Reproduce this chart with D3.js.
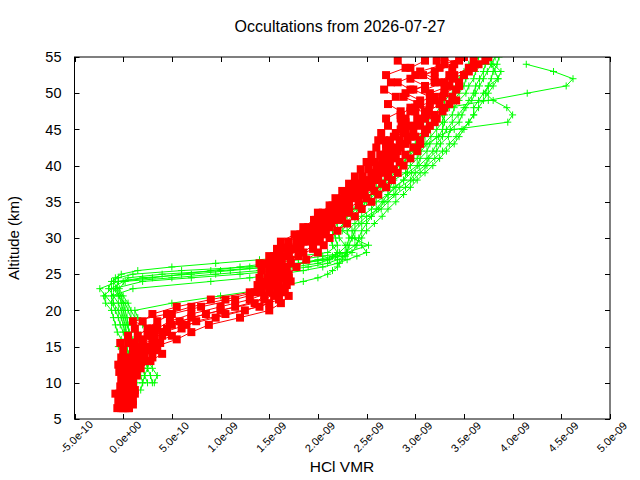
<!DOCTYPE html>
<html>
<head>
<meta charset="utf-8">
<script src="https://cdn.jsdelivr.net/npm/d3@7"></script>
<style>
  html, body { margin: 0; padding: 0; background: #fff; }
  svg { display: block; font-family: "Liberation Sans", Arial, sans-serif; }
</style>
</head>
<body>
<svg id="chart" width="640" height="480"></svg>
<script>
// ---- data (VMR in units of 1e-9, altitude in km) ----
const titleText = "Occultations from 2026-07-27";
const xLabel = "HCl VMR";
const yLabel = "Altitude (km)";
const vmrUnit = 1e-9;
const xTicks = [-5e-10, 0, 5e-10, 1e-9, 1.5e-9, 2e-9, 2.5e-9, 3e-9, 3.5e-9, 4e-9, 4.5e-9, 5e-9];
const yTicks = [5, 10, 15, 20, 25, 30, 35, 40, 45, 50, 55];

const greenAlt = [9,10,11,12,13,14,15,16,17,18,19,20,21,22,23,24,24.5,25,25.5,26,26.5,27,27.5,28,29,30,31,32,33,34,35,36,37,38,39,40,41,42,43,44,45,46,47,48,49,50,51,52,53,54,55];
const green1 = [null,0.14,0.12,0.10,0.08,0.06,0.03,0.02,0.00,-0.03,-0.05,-0.08,-0.12,-0.18,-0.24,-0.05,0.30,0.60,0.90,1.20,1.50,1.80,2.05,2.30,2.52,2.35,2.25,2.30,2.38,2.45,2.55,2.62,2.74,2.78,2.90,2.95,3.02,3.06,3.12,3.24,3.28,3.30,3.38,3.40,3.45,3.52,3.55,3.60,3.62,3.68,3.75];
const green2 = [null,0.20,0.18,0.15,0.12,0.10,0.08,0.05,0.03,0.02,0.00,-0.02,-0.05,-0.10,-0.15,-0.12,-0.05,0.10,0.60,1.30,1.80,2.10,2.25,2.30,2.28,2.22,2.20,2.28,2.35,2.42,2.50,2.58,2.66,2.74,2.82,2.88,2.96,3.02,3.10,3.16,3.22,3.28,3.30,3.33,3.75,4.15,4.55,4.62,4.42,4.14,null];
const green3 = [null,0.25,0.22,0.20,0.18,0.15,0.12,0.10,0.06,0.04,0.02,0.00,-0.02,-0.04,-0.08,-0.05,0.20,0.70,1.10,1.50,1.80,2.00,2.15,2.22,2.30,2.32,2.30,2.38,2.45,2.55,2.60,2.72,2.78,2.88,2.92,3.02,3.05,3.12,3.15,3.22,3.40,3.95,4.00,3.94,3.80,3.72,3.75,3.85,3.88,3.80,3.72];
const green4 = [null,0.10,0.08,0.06,0.05,0.05,0.04,0.03,0.02,0.00,-0.02,-0.05,-0.10,-0.12,0.10,0.90,1.30,1.60,1.85,2.05,2.20,2.30,2.40,2.50,2.45,2.38,2.35,2.42,2.50,2.62,2.68,2.78,2.84,2.95,3.00,3.10,3.14,3.22,3.26,3.34,3.36,3.45,3.48,3.52,3.58,3.62,3.66,3.70,3.74,3.78,3.82];
const green5 = [0.18,0.20,0.22,0.25,0.28,0.30,0.32,0.30,0.25,0.20,0.15,0.12,0.50,1.00,1.50,1.85,2.00,2.10,2.15,2.20,2.22,2.25,2.28,2.30,2.32,2.35,2.38,2.45,2.55,2.65,2.72,2.80,2.90,2.98,3.05,3.12,3.20,3.28,3.35,3.42,3.48,3.55,3.60,3.65,3.70,3.75,3.80,3.85,3.82,3.78,null];
const green6 = [null,0.05,0.06,0.08,0.10,0.12,0.10,0.08,0.06,0.05,0.04,0.02,0.00,-0.02,-0.06,-0.10,-0.08,-0.02,0.15,0.50,0.95,1.40,1.80,2.10,2.20,2.18,2.15,2.20,2.28,2.36,2.42,2.50,2.60,2.68,2.76,2.84,2.92,2.98,3.05,3.10,3.15,3.20,3.28,3.35,3.40,3.45,3.50,3.52,3.55,3.60,3.65];
const green7 = [null,0.30,0.28,0.25,0.22,0.20,0.18,0.15,0.12,0.10,0.08,0.05,0.02,-0.05,-0.10,0.20,0.70,1.20,1.60,1.90,2.10,2.20,2.28,2.35,2.40,2.42,2.45,2.50,2.55,2.60,2.66,2.72,2.80,2.88,2.96,3.04,3.12,3.18,3.22,3.28,3.32,3.38,3.44,3.50,3.55,3.60,3.62,3.66,3.70,3.72,3.76];
const green8 = [null,0.32,0.35,0.30,0.26,0.22,0.28,0.20,0.15,0.10,0.12,0.08,0.05,0.00,-0.04,0.02,0.05,0.40,1.00,1.50,1.85,2.05,2.20,2.28,2.38,2.45,2.50,2.58,2.66,2.72,2.80,2.88,2.95,3.02,3.10,3.18,3.25,3.32,3.40,3.45,3.50,3.55,3.60,3.60,3.65,3.70,3.75,3.78,3.80,3.84,3.86];
const green9 = [0.05,0.08,0.00,0.02,-0.03,0.00,-0.05,-0.02,-0.06,-0.08,-0.10,-0.12,-0.18,-0.20,-0.12,0.00,0.50,0.95,1.40,1.75,2.00,2.12,2.18,2.20,2.15,2.12,2.20,2.26,2.30,2.40,2.48,2.55,2.64,2.70,2.80,2.86,2.90,2.95,3.00,3.05,3.10,3.12,3.20,3.25,3.30,3.38,3.42,3.45,3.50,3.55,3.60];

const redAlt = [6.5,7.5,8.5,9.5,10.5,11.5,12.5,13.5,14.5,15.5,16.5,17.5,18.5,19.5,20.5,21.5,22.5,23.5,24.5,25.5,26.5,27.5,28.5,29.5,30.5,31.5,32.5,33.5,34.5,35.5,36.5,37.5,38.5,39.5,40.5,41.5,42.5,43.5,44.5,45.5,46.5,47.5,48.5,49.5,50.5,51.5,52.5,53.5,54.5];
const red1 = [-0.02,-0.05,-0.08,-0.03,-0.02,-0.04,-0.05,-0.02,0.00,-0.03,0.05,0.12,0.20,0.30,0.55,0.90,1.30,1.38,1.40,1.42,1.45,1.50,1.58,1.70,1.82,1.90,1.98,2.05,2.12,2.18,2.25,2.32,2.38,2.44,2.50,2.55,2.60,2.62,2.65,2.72,2.70,2.85,2.72,2.80,2.68,2.75,2.70,2.90,2.82];
const red2 = [0.02,0.00,-0.04,0.01,0.02,0.00,0.02,0.05,0.10,0.05,0.15,0.25,0.35,0.50,0.80,1.15,1.42,1.45,1.48,1.50,1.52,1.58,1.66,1.78,1.88,1.96,2.05,2.12,2.20,2.25,2.32,2.40,2.46,2.52,2.58,2.64,2.70,2.74,2.80,2.86,2.90,2.95,3.05,2.88,2.95,2.82,3.00,2.95,3.10];
const red3 = [0.05,0.03,0.02,0.04,0.06,0.04,0.08,0.12,0.18,0.12,0.25,0.35,0.48,0.70,1.00,1.30,1.50,1.52,1.55,1.56,1.58,1.64,1.75,1.85,1.94,2.02,2.10,2.18,2.26,2.32,2.40,2.48,2.55,2.60,2.66,2.72,2.78,2.84,2.90,2.96,3.02,3.10,3.02,3.15,2.98,3.20,3.08,3.25,3.22];
const red4 = [0.00,0.06,0.08,0.02,0.04,0.08,0.10,0.20,0.25,0.20,0.32,0.45,0.58,0.85,1.15,1.45,1.58,1.60,1.62,1.60,1.63,1.70,1.82,1.92,2.00,2.06,2.15,2.24,2.32,2.40,2.48,2.55,2.62,2.68,2.74,2.80,2.85,2.92,2.98,3.04,3.10,3.14,3.25,3.20,3.30,3.25,3.35,3.38,3.45];
const red5 = [0.06,0.10,0.12,0.08,0.10,0.12,0.15,0.30,0.35,0.32,0.50,0.60,0.75,1.05,1.40,1.60,1.65,1.68,1.70,1.68,1.72,1.80,1.95,2.02,2.08,2.12,2.22,2.32,2.42,2.50,2.58,2.66,2.72,2.78,2.84,2.90,2.98,3.05,3.10,3.15,3.22,3.28,3.35,3.38,3.42,3.45,3.50,3.60,3.72];
const red6 = [-0.06,-0.02,0.04,0.10,0.00,0.06,0.04,0.15,0.28,0.38,0.40,0.30,0.10,0.45,0.70,1.05,1.35,1.48,1.65,1.50,1.40,1.55,1.72,1.62,1.76,1.85,1.96,2.00,2.15,2.28,2.35,2.45,2.58,2.70,2.55,2.68,2.75,2.68,2.88,2.98,2.85,3.00,3.15,3.28,3.10,3.30,3.40,3.55,3.60];

const redAltB = [7,8,9,10,11,12,13,14,15,16,17,18,19,20,21,22,23,24,25,26,27,28,29,30,31,32,33,34,35,36,37,38,39,40,41,42,43,44,45,46,47,48,49,50,51,52,53,54,55];
const red7 = [0.04,0.00,0.06,0.02,0.08,0.03,0.10,0.22,0.15,0.30,0.42,0.65,0.95,1.25,1.50,1.55,1.62,1.55,1.60,1.65,1.72,1.85,1.95,2.00,2.08,2.14,2.25,2.30,2.42,2.45,2.55,2.60,2.66,2.70,2.78,2.82,2.90,2.95,2.90,3.05,3.12,3.00,3.20,3.15,3.35,3.20,3.05,3.30,3.50];
const red8 = [-0.04,0.03,-0.02,0.05,-0.01,0.10,0.22,0.12,0.25,0.20,0.30,0.50,0.70,1.00,1.35,1.45,1.50,1.45,1.52,1.55,1.62,1.70,1.80,1.92,2.00,2.08,2.15,2.22,2.30,2.38,2.42,2.50,2.55,2.62,2.66,2.72,2.70,2.78,2.85,2.90,2.85,2.95,3.05,2.90,3.10,2.95,3.20,3.40,3.30];
const red9 = [0.10,0.07,0.12,0.10,0.14,0.18,0.28,0.40,0.33,0.55,0.70,0.88,1.20,1.50,1.62,1.70,1.66,1.72,1.70,1.78,1.88,2.00,2.06,2.12,2.20,2.30,2.38,2.45,2.55,2.62,2.70,2.76,2.82,2.88,2.95,3.02,3.05,3.00,3.12,3.20,3.20,3.30,3.42,3.30,3.45,3.38,3.55,3.65,3.75];

const greenProfiles = [green1, green2, green3, green4, green5, green6, green7, green8, green9];
const redProfilesA = [red1, red2, red3, red4, red5, red6];
const redProfilesB = [red7, red8, red9];

// ---- layout ----
const svg = d3.select("#chart");
const W = 640, H = 480;
const plot = { left: 74.5, right: 610, top: 57, bottom: 419 };

const x = d3.scaleLinear().domain([-5e-10, 5e-9]).range([plot.left, plot.right]);
const y = d3.scaleLinear().domain([5, 55]).range([plot.bottom, plot.top]);

function gnuFmt(v) {
  if (Math.abs(v) < 1e-20) return "0.0e+00";
  const s = d3.format(".1e")(v).replace("\u2212", "-");
  const m = s.match(/^(-?[\d.]+)e([+-\u2212])(\d+)$/);
  const sign = m[2] === "+" ? "+" : "-";
  return m[1] + "e" + sign + (m[3].length < 2 ? "0" + m[3] : m[3]);
}

svg.append("rect").attr("width", W).attr("height", H).attr("fill", "#fff");

svg.append("defs").append("clipPath").attr("id", "clip")
  .append("rect").attr("x", plot.left).attr("y", plot.top)
  .attr("width", plot.right - plot.left).attr("height", plot.bottom - plot.top);

const g = svg.append("g").attr("clip-path", "url(#clip)");

function toPoints(alts, vals) {
  const pts = [];
  vals.forEach((v, i) => { if (v !== null) pts.push([v * vmrUnit, alts[i]]); });
  return pts;
}

const line = d3.line().x(d => x(d[0])).y(d => y(d[1]));

// green profiles: lines + plus markers
greenProfiles.forEach(p => {
  const pts = toPoints(greenAlt, p);
  g.append("path").datum(pts).attr("d", line)
    .attr("fill", "none").attr("stroke", "#00ff00").attr("stroke-width", 1);
  g.append("g").selectAll("path").data(pts).join("path")
    .attr("d", d => { const cx = x(d[0]), cy = y(d[1]), r = 3.5;
      return `M${cx - r},${cy}H${cx + r}M${cx},${cy - r}V${cy + r}`; })
    .attr("stroke", "#00ff00").attr("stroke-width", 1).attr("fill", "none");
});

// red profiles: thin lines + filled squares
const redSets = redProfilesA.map(p => toPoints(redAlt, p))
  .concat(redProfilesB.map(p => toPoints(redAltB, p)));
redSets.forEach(pts => {
  g.append("path").datum(pts).attr("d", line)
    .attr("fill", "none").attr("stroke", "#ff0000").attr("stroke-width", 1);
});
redSets.forEach(pts => {
  g.append("g").selectAll("rect").data(pts).join("rect")
    .attr("x", d => x(d[0]) - 4).attr("y", d => y(d[1]) - 4)
    .attr("width", 8).attr("height", 8).attr("fill", "#ff0000");
});

// ---- axes (gnuplot-style inward ticks, mirrored) ----
const tickLen = 5;
const axes = svg.append("g").attr("stroke", "#000").attr("stroke-width", 1);
xTicks.forEach(t => {
  const px = Math.round(x(t)) + 0.5;
  axes.append("line").attr("x1", px).attr("x2", px).attr("y1", plot.bottom).attr("y2", plot.bottom - tickLen);
  axes.append("line").attr("x1", px).attr("x2", px).attr("y1", plot.top).attr("y2", plot.top + tickLen);
});
yTicks.forEach(t => {
  const py = Math.round(y(t)) + 0.5;
  axes.append("line").attr("x1", plot.left).attr("x2", plot.left + tickLen).attr("y1", py).attr("y2", py);
  axes.append("line").attr("x1", plot.right).attr("x2", plot.right - tickLen).attr("y1", py).attr("y2", py);
});
svg.append("rect")
  .attr("x", plot.left).attr("y", plot.top)
  .attr("width", plot.right - plot.left).attr("height", plot.bottom - plot.top)
  .attr("fill", "none").attr("stroke", "#000").attr("stroke-width", 1);

// tick labels
svg.append("g").selectAll("text").data(xTicks).join("text")
  .attr("transform", d => `translate(${x(d) + 2},${plot.bottom + 18}) rotate(-45)`)
  .attr("text-anchor", "middle").attr("dy", "0.35em")
  .attr("font-size", 11).attr("fill", "#000")
  .text(d => gnuFmt(d));

svg.append("g").selectAll("text").data(yTicks).join("text")
  .attr("x", plot.left - 13).attr("y", d => y(d))
  .attr("dy", "0.36em").attr("text-anchor", "end")
  .attr("font-size", 14.5).attr("fill", "#000")
  .text(d => d);

// titles
svg.append("text").attr("x", 340).attr("y", 32).attr("text-anchor", "middle")
  .attr("font-size", 16).attr("fill", "#000").text(titleText);
svg.append("text").attr("x", 342).attr("y", 472).attr("text-anchor", "middle")
  .attr("font-size", 15.5).attr("fill", "#000").text(xLabel);
svg.append("text").attr("transform", "translate(19,238) rotate(-90)")
  .attr("text-anchor", "middle").attr("font-size", 15).attr("fill", "#000").text(yLabel);
</script>
</body>
</html>
